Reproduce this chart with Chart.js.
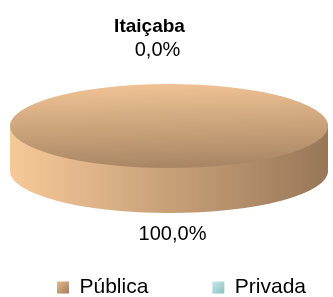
<!DOCTYPE html>
<html>
<head>
<meta charset="utf-8">
<script src="https://cdn.jsdelivr.net/npm/chart.js@4.4.1/dist/chart.umd.min.js"></script>
<style>
  html, body { margin: 0; padding: 0; background: #fff; overflow: hidden; }
  canvas { display: block; }
</style>
</head>
<body>
<canvas id="myChart" width="333" height="297"></canvas>
<script>
const chartTitle = 'Itaiçaba';
const labels = ['Pública', 'Privada'];
const values = [100, 0];

// look of the flat 3d disc
const disc = { cx: 169, cy: 126, rx: 159, ry: 42, depth: 45 };
const topStops = [['#F8CA9A', '#957556'], ['#C4E6E7', '#7FB3B5']];
const sideStops = [['#F7C999', '#987757'], ['#BFE3E4', '#86B9BB']];
const legendStops = [['#E8BC8E', '#9C7B5B'], ['#C6E8E9', '#8DC0C2']];
const labelShift = [[3.5, 21.5], [-11.5, -33.6]];
const font = "'Liberation Sans', Arial, sans-serif";

const discPlugin = {
  id: 'disc',
  beforeDraw(chart) {
    // gradient squares in the legend
    const lg = chart.legend;
    if (!lg || !lg.legendHitBoxes) return;
    lg.legendItems.forEach((item, i) => {
      const hb = lg.legendHitBoxes[i];
      if (!hb) return;
      const y = hb.top + (21 - 12) / 2;
      const g = chart.ctx.createLinearGradient(hb.left, y, hb.left + 12, y + 12);
      g.addColorStop(0, legendStops[i][0]);
      g.addColorStop(1, legendStops[i][1]);
      item.fillStyle = g;
    });
  },
  beforeDatasetsDraw(chart) {
    const ctx = chart.ctx;
    const arcs = chart.getDatasetMeta(0).data;
    const ox = arcs[0].x, oy = arcs[0].y, R = arcs[0].outerRadius;
    const sx = disc.rx / R, sy = disc.ry / R;

    const draw = (arc, fill) => {
      const saved = arc.options;
      arc.options = Object.assign({}, saved, { backgroundColor: fill, borderWidth: 0 });
      arc.draw(ctx);
      arc.options = saved;
    };

    // side of the disc
    for (let d = disc.depth; d > 0; d--) {
      ctx.save();
      ctx.translate(disc.cx, disc.cy + d);
      ctx.scale(sx, sy);
      ctx.translate(-ox, -oy);
      arcs.forEach((arc, i) => {
        const g = ctx.createLinearGradient(ox - R * 1.005, 0, ox + R * 1.005, 0);
        g.addColorStop(0, sideStops[i][0]);
        g.addColorStop(1, sideStops[i][1]);
        draw(arc, g);
      });
      ctx.restore();
    }

    // top of the disc
    ctx.save();
    ctx.translate(disc.cx, disc.cy);
    ctx.scale(sx, sy);
    ctx.translate(-ox, -oy);
    const loc = (X, Y) => [ox + (X - disc.cx) / sx, oy + (Y - disc.cy) / sy];
    const p0 = loc(149, 73.5), p1 = loc(193, 190);
    arcs.forEach((arc, i) => {
      const g = ctx.createLinearGradient(p0[0], p0[1], p1[0], p1[1]);
      g.addColorStop(0, topStops[i][0]);
      g.addColorStop(1, topStops[i][1]);
      draw(arc, g);
    });
    ctx.restore();
    return false;
  },
  afterDraw(chart) {
    const ctx = chart.ctx;
    const arcs = chart.getDatasetMeta(0).data;
    const total = values.reduce((a, b) => a + b, 0);
    ctx.save();
    ctx.fillStyle = '#000';
    ctx.textAlign = 'center';

    ctx.font = 'bold 19px ' + font;
    ctx.textBaseline = 'alphabetic';
    ctx.fillText(chartTitle, 149.5, 31.7);

    ctx.font = '20px ' + font;
    ctx.textBaseline = 'middle';
    arcs.forEach((arc, i) => {
      const mid = (arc.startAngle + arc.endAngle) / 2;
      const s = Math.sin(mid);
      let x = disc.cx + disc.rx * Math.cos(mid);
      let y = disc.cy + disc.ry * s + (s > 0 ? disc.depth : 0);
      x += labelShift[i][0];
      y += labelShift[i][1];
      const pct = (values[i] / total * 100).toFixed(1).replace('.', ',') + '%';
      ctx.fillText(pct, x, y);
    });
    ctx.restore();
  }
};

const ctx = document.getElementById('myChart');
const myChart = new Chart(ctx, {
  type: 'pie',
  data: {
    labels: labels,
    datasets: [{
      data: values,
      backgroundColor: ['#C8A078', '#A8D6D8'],
      borderWidth: 0
    }]
  },
  options: {
    responsive: false,
    animation: false,
    events: [],
    // wide legend row so both items stay on one line with a big gap
    layout: { padding: { left: -15, right: -45, top: 0, bottom: -11 } },
    plugins: {
      title: { display: false },
      tooltip: { enabled: false },
      legend: {
        position: 'bottom',
        labels: {
          boxWidth: 12,
          boxHeight: 12,
          padding: 64,
          color: '#000',
          font: { size: 21, family: font }
        }
      }
    }
  },
  plugins: [discPlugin]
});
</script>
</body>
</html>
